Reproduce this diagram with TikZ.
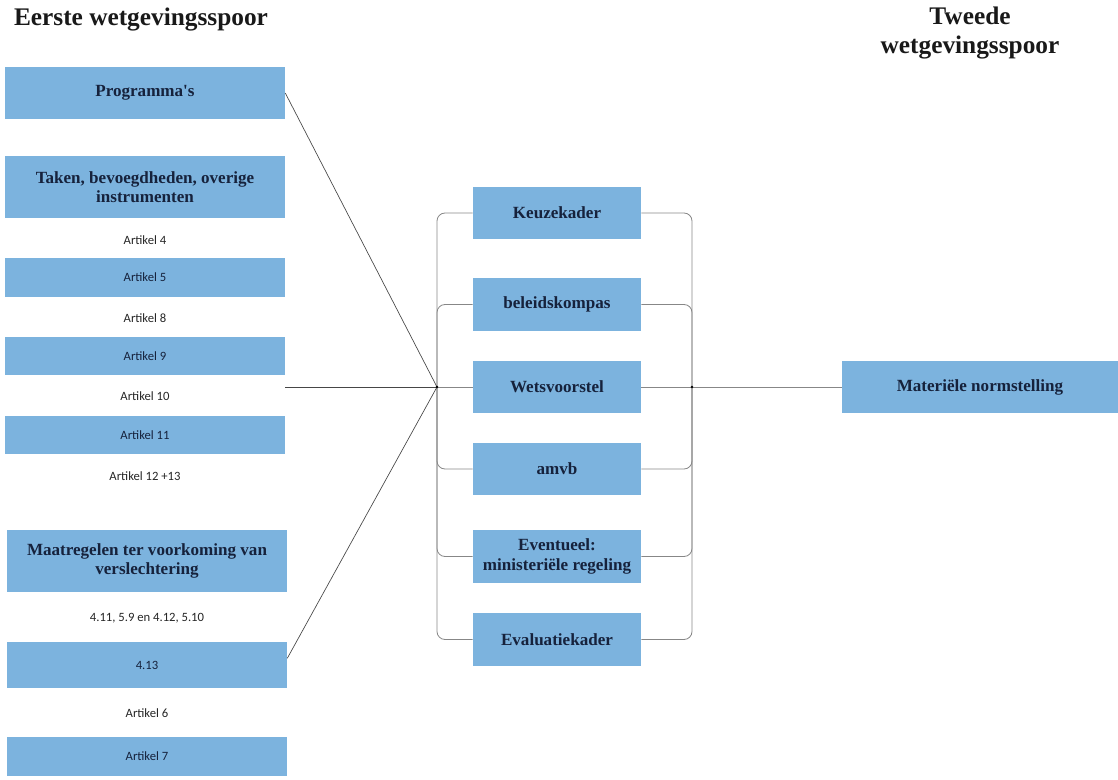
\documentclass[tikz,border=0pt]{standalone}
\usepackage{fontspec}
\setmainfont{Liberation Serif}
\newfontfamily\smallsans{Carlito}
\definecolor{boxblue}{RGB}{124,179,222}
\definecolor{boxtext}{RGB}{22,34,60}
\definecolor{bracketgray}{RGB}{135,135,135}
\definecolor{linegray}{RGB}{70,70,70}
\begin{document}
\begin{tikzpicture}[x=0.75pt,y=-0.75pt,
  box/.style={fill=boxblue, draw=none, text=boxtext, align=center, inner sep=0pt,
    font=\bfseries\fontsize{12.8}{14.5}\selectfont},
  leftbox/.style={box, minimum width=210pt},
  artbox/.style={leftbox, font=\smallsans\fontsize{9.5}{11}\selectfont},
  arttext/.style={minimum width=210pt, inner sep=0pt, text=black!85, font=\smallsans\fontsize{9.5}{11}\selectfont},
  midbox/.style={box, minimum width=126pt, minimum height=39.5pt},
  title/.style={font=\bfseries\fontsize{19}{22}\selectfont, align=center, text=black!90},
  bracket/.style={draw=bracketgray, line width=0.6pt, rounded corners=6pt},
  feed/.style={draw=linegray, line width=0.5pt},
  junction/.style={circle, fill=black, inner sep=0pt, minimum size=2.2pt}]
\useasboundingbox (0,0) rectangle (1118,780);

% titles
\node[title] (t1) at (141,20) {Eerste wetgevingsspoor};
\node[title] (t2) at (970,33) {Tweede\\wetgevingsspoor};

% left column
\node[leftbox, minimum height=39pt] (prog) at (145,93) {Programma\textquotesingle s};
\node[leftbox, minimum height=46.5pt] (taken) at (145,187) {Taken, bevoegdheden, overige\\instrumenten};
\node[arttext] (a4) at (145,240) {Artikel 4};
\node[artbox, minimum height=29.25pt] (a5) at (145,277.5) {Artikel 5};
\node[arttext] (a8) at (145,318) {Artikel 8};
\node[artbox, minimum height=28.5pt] (a9) at (145,356) {Artikel 9};
\node[arttext] (a10) at (145,396) {Artikel 10};
\node[artbox, minimum height=28.5pt] (a11) at (145,435) {Artikel 11};
\node[arttext] (a12) at (145,476) {Artikel 12 +13};
\node[leftbox, minimum height=46.5pt] (maat) at (147,561) {Maatregelen ter voorkoming van\\verslechtering};
\node[arttext] (t411) at (147,618) {4.11, 5.9 en 4.12, 5.10};
\node[artbox, minimum height=34.5pt] (a413) at (147,665) {4.13};
\node[arttext] (a6) at (147,713) {Artikel 6};
\node[artbox, minimum height=29.25pt] (a7) at (147,756) {Artikel 7};

% middle column
\node[midbox] (keuze) at (557,213) {Keuzekader};
\node[midbox] (beleid) at (557,304.5) {beleidskompas};
\node[midbox] (wets) at (557,387) {Wetsvoorstel};
\node[midbox] (amvb) at (557,469) {amvb};
\node[midbox] (event) at (557,556.5) {Eventueel:\\ministeriële regeling};
\node[midbox] (eval) at (557,639.5) {Evaluatiekader};

% right
\node[box, minimum width=207pt, minimum height=39pt] (mat) at (980,387) {Materiële normstelling};

% junctions
\coordinate (j1) at (437,387);
\coordinate (j2) at (692,387);

% brackets
\foreach \n in {keuze,beleid,amvb,event,eval}{
  \draw[bracket] (j1) |- (\n.west);
  \draw[bracket] (j2) |- (\n.east);
}
\draw[bracket] (j1) -- (wets.west);
\draw[bracket] (wets.east) -- (j2);
\draw[bracket] (j2) -- (mat.west);

% feeders
\draw[feed] (prog.east) -- (j1);
\draw[feed] (a10.east |- j1) -- (j1);
\draw[feed] ([yshift=5pt]a413.east) -- (j1);

\node[junction] at (j1) {};
\node[junction] at (j2) {};
\end{tikzpicture}
\end{document}
